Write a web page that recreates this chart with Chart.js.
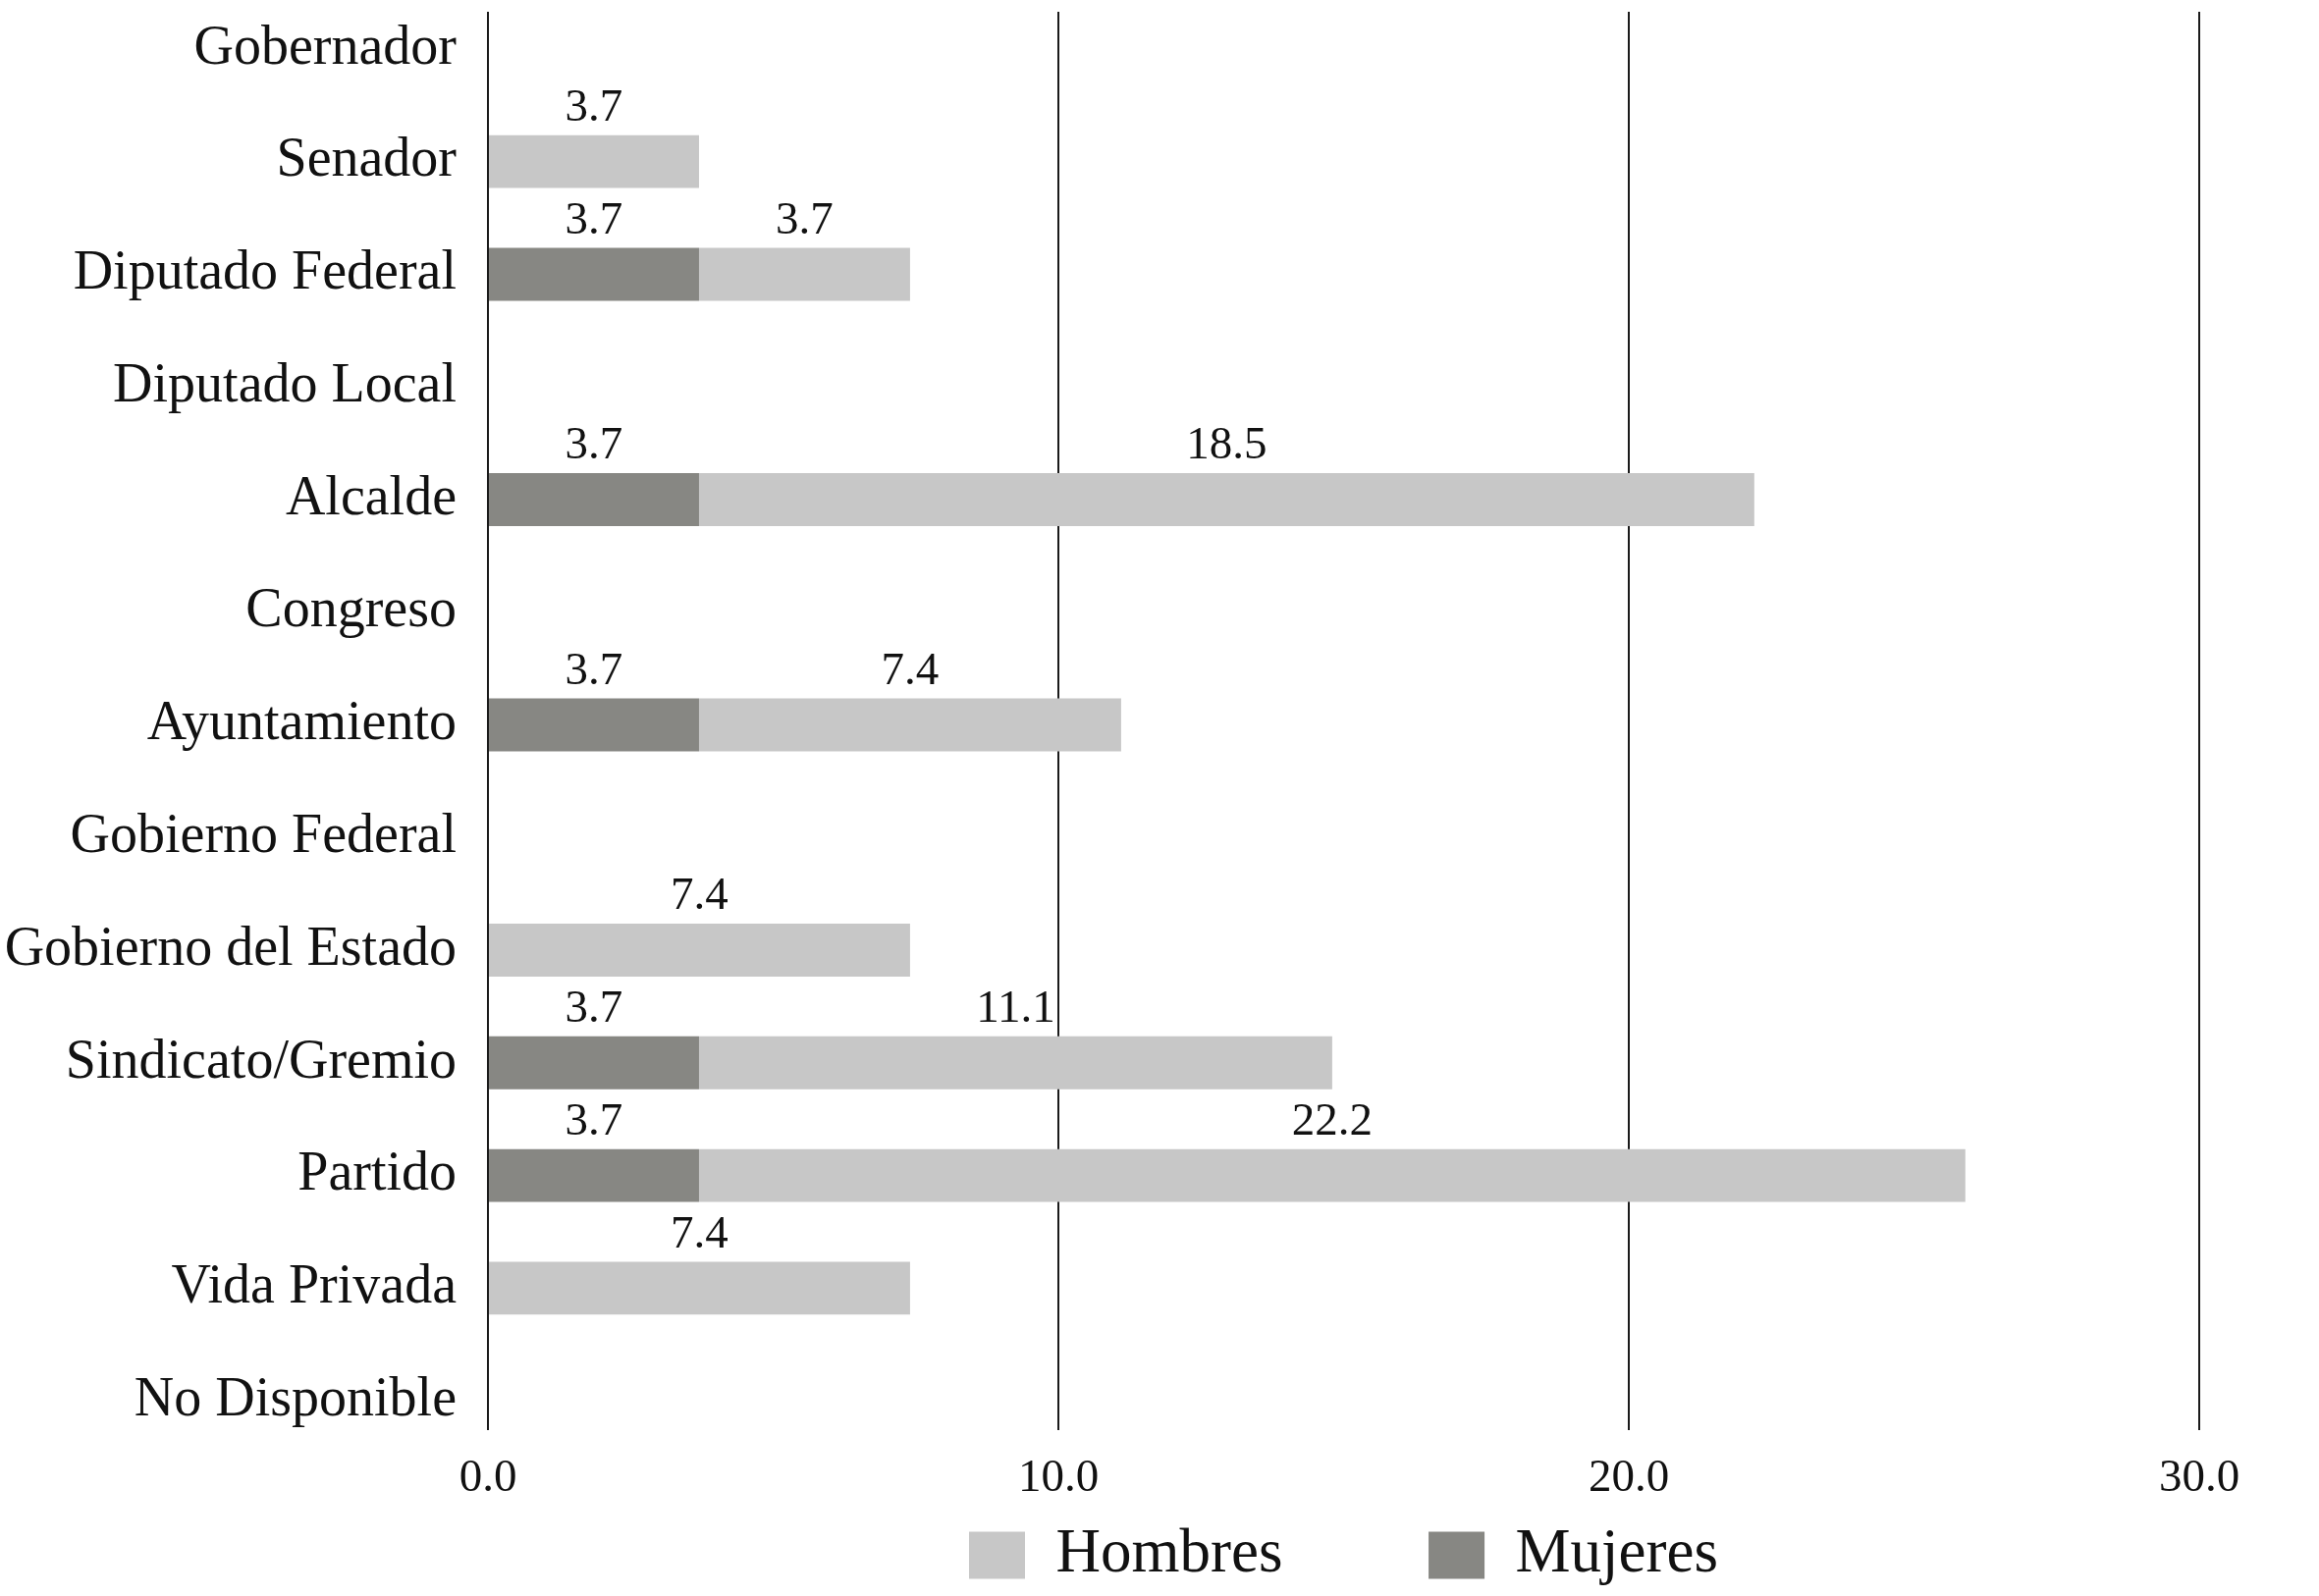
<!DOCTYPE html>
<html>
<head>
<meta charset="utf-8">
<script src="https://cdn.jsdelivr.net/npm/chart.js@4"></script>
<style>
  html, body { margin: 0; padding: 0; background: #ffffff; }
  #wrap { width: 2362px; height: 1626px; position: relative; }
</style>
</head>
<body>
<div id="wrap"><canvas id="c" width="2362" height="1626"></canvas></div>
<script>
const categories = ["Gobernador", "Senador", "Diputado Federal", "Diputado Local", "Alcalde", "Congreso", "Ayuntamiento", "Gobierno Federal", "Gobierno del Estado", "Sindicato/Gremio", "Partido", "Vida Privada", "No Disponible"];
const mujeres = [null, null, 3.7, null, 3.7, null, 3.7, null, null, 3.7, 3.7, null, null];
const hombres = [null, 3.7, 3.7, null, 18.5, null, 7.4, null, 7.4, 11.1, 22.2, 7.4, null];
const xTicks = [0, 10, 20, 30];

const FONT = "'Liberation Serif', 'DejaVu Serif', serif";

const labelPlugin = {
  id: 'barLabels',
  afterDatasetsDraw(chart) {
    const ctx = chart.ctx;
    ctx.save();
    ctx.font = "47px " + FONT;
    ctx.fillStyle = '#111111';
    ctx.textAlign = 'center';
    ctx.textBaseline = 'middle';
    chart.data.datasets.forEach((ds, di) => {
      const meta = chart.getDatasetMeta(di);
      meta.data.forEach((el, i) => {
        const v = ds.data[i].x;
        if (v === null || v === undefined) return;
        const cx = (el.x + el.base) / 2;
        const cy = el.y - 54;
        ctx.fillText(v.toFixed(1), cx, cy);
      });
    });
    ctx.restore();
  }
};

new Chart(document.getElementById('c'), {
  type: 'bar',
  data: {
    datasets: [
      {
        label: 'Mujeres',
        data: categories.map((c, i) => ({ x: mujeres[i], y: i })),
        backgroundColor: '#878783',
        borderWidth: 0,
        categoryPercentage: 1,
        barPercentage: 0.47
      },
      {
        label: 'Hombres',
        data: categories.map((c, i) => ({ x: hombres[i], y: i })),
        backgroundColor: '#c7c7c7',
        borderWidth: 0,
        categoryPercentage: 1,
        barPercentage: 0.47
      }
    ]
  },
  options: {
    indexAxis: 'y',
    responsive: false,
    animation: false,
    layout: { padding: { top: 12, right: 122, left: 0, bottom: 0 } },
    scales: {
      x: {
        type: 'linear',
        stacked: true,
        min: 0,
        max: 30,
        afterBuildTicks: (scale) => { scale.ticks = xTicks.map(v => ({ value: v })); },
        afterFit: (scale) => { scale.height = 86; },
        ticks: {
          callback: (v) => Number(v).toFixed(1),
          font: { family: FONT, size: 47 },
          color: '#111111',
          padding: 21
        },
        grid: { color: '#1a1a1a', lineWidth: 2, drawTicks: false },
        border: { display: false }
      },
      y: {
        type: 'linear',
        stacked: true,
        reverse: true,
        offset: false,
        min: -0.33,
        max: 12.26,
        afterBuildTicks: (scale) => { scale.ticks = categories.map((c, i) => ({ value: i })); },
        afterFit: (scale) => { scale.width = 497; scale.paddingTop = 0; scale.paddingBottom = 0; },
        ticks: {
          callback: (v) => categories[v],
          font: { family: FONT, size: 56 },
          color: '#111111',
          padding: 24,
          autoSkip: false
        },
        grid: { display: false },
        border: { display: false }
      }
    },
    plugins: {
      legend: {
        position: 'bottom',
        fullSize: false,
        reverse: true,
        labels: {
          font: { family: FONT, size: 63 },
          color: '#111111',
          boxWidth: 57,
          boxHeight: 48,
          padding: 10,
          generateLabels: (chart) => {
            const items = Chart.defaults.plugins.legend.labels.generateLabels(chart);
            items.forEach(it => { if (it.text === 'Hombres') it.text = 'Hombres\u2003\u2003\u2009'; });
            return items;
          }
        }
      },
      tooltip: { enabled: false }
    }
  },
  plugins: [labelPlugin]
});
</script>
</body>
</html>
